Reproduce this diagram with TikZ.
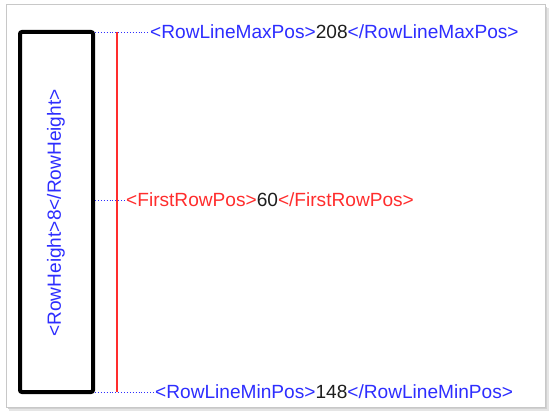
\documentclass[tikz,border=0pt]{standalone}
\usepackage{fontspec}
\setmainfont{Liberation Sans}
\definecolor{tagblue}{RGB}{45,45,255}
\definecolor{tagred}{RGB}{255,45,45}
\definecolor{numgray}{RGB}{30,30,30}
\definecolor{framegray}{RGB}{200,200,200}
\begin{document}
\begin{tikzpicture}[x=1pt,y=-1pt,
  lbl/.style={font=\fontsize{19.1}{21}\selectfont, inner sep=0pt, anchor=west},
  guide/.style={draw=tagblue, dotted, line width=0.9pt},
  rowbox/.style={draw=black, line width=4pt, rounded corners=2pt},
]
\useasboundingbox (0,0) rectangle (552,417);
% frame with shadow
\fill[black!10] (9,8) rectangle (549,411);
\fill[black!18] (8,7) rectangle (547,409);
\filldraw[fill=white, draw=framegray, line width=0.8pt] (6,4) rectangle (545,407);
% row box
\draw[rowbox] (20,32) rectangle (93,392);
\coordinate (boxNE) at (95,32);
\coordinate (boxE) at (95,200);
\coordinate (boxSE) at (95,392);
% red line
\coordinate (redtop) at (117,32);
\coordinate (redbot) at (117,392);
\draw[tagred, line width=1.3pt] (redtop) -- (redbot);
% labels
\node[lbl] (maxlbl) at (150,32) {\textcolor{tagblue}{<RowLineMaxPos>}\textcolor{numgray}{208}\textcolor{tagblue}{</RowLineMaxPos>}};
\node[lbl] (firstlbl) at (126,200) {\textcolor{tagred}{<FirstRowPos>}\textcolor{numgray}{60}\textcolor{tagred}{</FirstRowPos>}};
\node[lbl] (minlbl) at (155,392) {\textcolor{tagblue}{<RowLineMinPos>}\textcolor{numgray}{148}\textcolor{tagblue}{</RowLineMinPos>}};
\node[font=\fontsize{19.1}{21}\selectfont, inner sep=0pt, rotate=90] (heightlbl) at (56,213) {\textcolor{tagblue}{<RowHeight>8</RowHeight>}};
% guides
\draw[guide] (boxNE) -- (maxlbl.west);
\draw[guide] (boxE) -- (firstlbl.west);
\draw[guide] (boxSE) -- (minlbl.west);
\end{tikzpicture}
\end{document}
